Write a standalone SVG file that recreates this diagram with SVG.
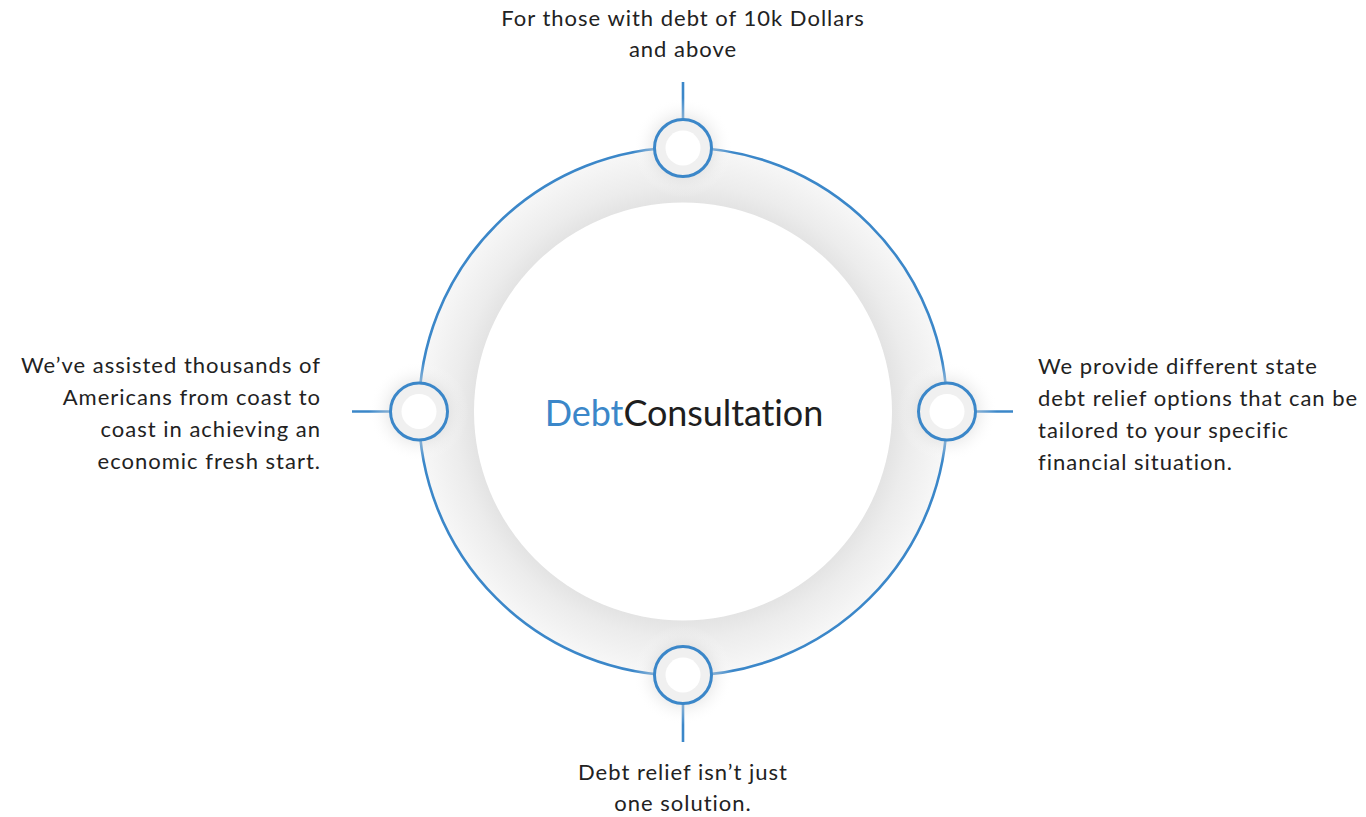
<svg xmlns="http://www.w3.org/2000/svg" width="1366" height="817" viewBox="0 0 1366 817">
  <style>
    .txt { font-family: "Lato", "Open Sans", "Liberation Sans", sans-serif; font-size: 22px; fill: #222222; letter-spacing: 1px; }
    .title { font-family: "Lato", "Open Sans", "Liberation Sans", sans-serif; font-size: 36px; fill: #1e1e1e; letter-spacing: -0.1px; }
    .blue { fill: #3b87c9; }
    .link { stroke: #3b87c9; stroke-width: 2.6; fill: none; }
    .nodeOuter { fill: #f0f0f0; stroke: #3b87c9; stroke-width: 3; }
    .nodeInner { fill: #ffffff; }
    .halo { fill: url(#haloGrad); }
  </style>
  <defs>
    <radialGradient id="ringGrad" cx="683" cy="411.5" r="264" gradientUnits="userSpaceOnUse">
      <stop offset="0.78" stop-color="#e2e2e2"/>
      <stop offset="0.86" stop-color="#ececec"/>
      <stop offset="1" stop-color="#f7f7f7"/>
    </radialGradient>
    <radialGradient id="haloGrad">
      <stop offset="0.55" stop-color="#d8d8d8" stop-opacity="0.5"/>
      <stop offset="1" stop-color="#ffffff" stop-opacity="0"/>
    </radialGradient>
  </defs>
  <rect width="1366" height="817" fill="#ffffff"/>

  <g id="connectors">
    <line class="link" x1="683" y1="82" x2="683" y2="119"/>
    <line class="link" x1="352" y1="411.5" x2="390" y2="411.5"/>
    <line class="link" x1="976" y1="411.5" x2="1013" y2="411.5"/>
    <line class="link" x1="683" y1="704" x2="683" y2="742"/>
  </g>

  <g id="ring">
    <circle cx="683" cy="411.5" r="264" fill="url(#ringGrad)" stroke="#3b87c9" stroke-width="2.6"/>
    <circle cx="683" cy="411.5" r="209" fill="#ffffff"/>
  </g>

  <g id="center">
    <text x="684" y="426" text-anchor="middle" class="title"><tspan class="blue">Debt</tspan>Consultation</text>
  </g>

  <g id="node-top">
    <circle class="halo" cx="683" cy="148" r="50"/>
    <circle class="nodeOuter" cx="683" cy="148" r="28.5"/>
    <circle class="nodeInner" cx="683" cy="148" r="17.5"/>
    <text class="txt" text-anchor="middle" x="683" y="26">For those with debt of 10k Dollars</text>
    <text class="txt" text-anchor="middle" x="683" y="57">and above</text>
  </g>

  <g id="node-left">
    <circle class="halo" cx="419" cy="411.5" r="50"/>
    <circle class="nodeOuter" cx="419" cy="411.5" r="28.5"/>
    <circle class="nodeInner" cx="419" cy="411.5" r="17.5"/>
    <text class="txt" text-anchor="end" x="321" y="373">We’ve assisted thousands of</text>
    <text class="txt" text-anchor="end" x="321" y="405">Americans from coast to</text>
    <text class="txt" text-anchor="end" x="321" y="437">coast in achieving an</text>
    <text class="txt" text-anchor="end" x="321" y="469">economic fresh start.</text>
  </g>

  <g id="node-right">
    <circle class="halo" cx="947" cy="411.5" r="50"/>
    <circle class="nodeOuter" cx="947" cy="411.5" r="28.5"/>
    <circle class="nodeInner" cx="947" cy="411.5" r="17.5"/>
    <text class="txt" x="1038" y="374">We provide different state</text>
    <text class="txt" x="1038" y="406">debt relief options that can be</text>
    <text class="txt" x="1038" y="438">tailored to your specific</text>
    <text class="txt" x="1038" y="470">financial situation.</text>
  </g>

  <g id="node-bottom">
    <circle class="halo" cx="683" cy="675" r="50"/>
    <circle class="nodeOuter" cx="683" cy="675" r="28.5"/>
    <circle class="nodeInner" cx="683" cy="675" r="17.5"/>
    <text class="txt" text-anchor="middle" x="683" y="780">Debt relief isn’t just</text>
    <text class="txt" text-anchor="middle" x="683" y="811">one solution.</text>
  </g>
</svg>
